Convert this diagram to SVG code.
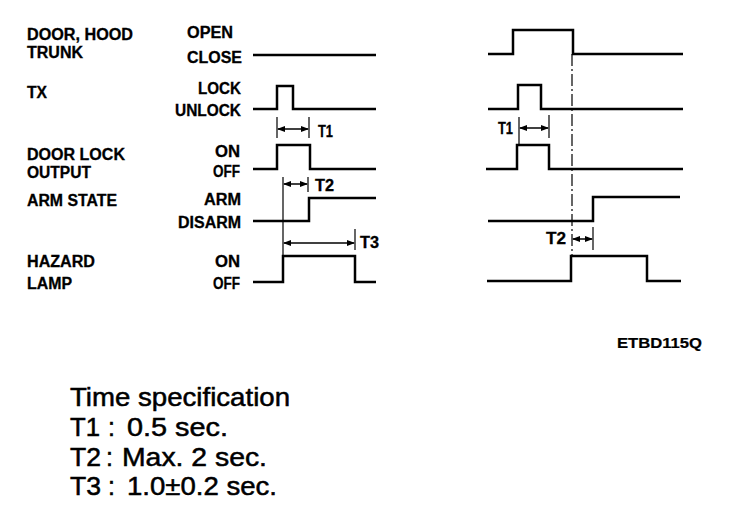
<svg xmlns="http://www.w3.org/2000/svg" width="736" height="524" viewBox="0 0 736 524">
<defs>
<marker id="ah" markerWidth="8" markerHeight="6" refX="7" refY="3" orient="auto-start-reverse" markerUnits="userSpaceOnUse">
<path d="M0,0 L8,3 L0,6 z" fill="#000"/>
</marker>
<style>
text{font-variant-ligatures:none}
.lbl{font-family:"Liberation Sans",Arial,sans-serif;font-weight:bold;font-size:16px;fill:#000;stroke:#000;stroke-width:0.3}
.st{text-anchor:end}
.tl{font-family:"Liberation Sans",Arial,sans-serif;font-weight:bold;font-size:16px;fill:#000;stroke:#000;stroke-width:0.3}
.spec{font-family:"Liberation Sans",Arial,sans-serif;font-size:25px;fill:#000;stroke:#000;stroke-width:0.5}
.wave{fill:none;stroke:#000;stroke-width:2.5;stroke-linejoin:miter}
.dim{fill:none;stroke:#000;stroke-width:1.2}
.arr{fill:none;stroke:#000;stroke-width:1.5;marker-start:url(#ah);marker-end:url(#ah)}
.dd{fill:none;stroke:#000;stroke-width:1.2;stroke-dasharray:12 3 2 3}
</style>
</defs>
<rect width="736" height="524" fill="#fff"/>

<g id="signal-door">
<text class="lbl" x="27" y="40" textLength="106" lengthAdjust="spacingAndGlyphs">DOOR, HOOD</text>
<text class="lbl" x="27" y="58" textLength="56" lengthAdjust="spacingAndGlyphs">TRUNK</text>
<text class="lbl" x="187" y="38" textLength="46" lengthAdjust="spacingAndGlyphs">OPEN</text>
<text class="lbl" x="187" y="63" textLength="55" lengthAdjust="spacingAndGlyphs">CLOSE</text>
</g>
<g id="signal-tx">
<text class="lbl" x="27" y="98" textLength="20" lengthAdjust="spacingAndGlyphs">TX</text>
<text class="lbl st" x="241" y="94" textLength="43" lengthAdjust="spacingAndGlyphs">LOCK</text>
<text class="lbl st" x="241" y="116" textLength="66" lengthAdjust="spacingAndGlyphs">UNLOCK</text>
</g>
<g id="signal-doorlock">
<text class="lbl" x="27" y="160" textLength="98" lengthAdjust="spacingAndGlyphs">DOOR LOCK</text>
<text class="lbl" x="27" y="178" textLength="64" lengthAdjust="spacingAndGlyphs">OUTPUT</text>
<text class="lbl st" x="240" y="157" textLength="25" lengthAdjust="spacingAndGlyphs">ON</text>
<text class="lbl st" x="240" y="177" textLength="27" lengthAdjust="spacingAndGlyphs">OFF</text>
</g>
<g id="signal-arm">
<text class="lbl" x="27" y="206" textLength="90" lengthAdjust="spacingAndGlyphs">ARM STATE</text>
<text class="lbl st" x="241" y="205" textLength="37" lengthAdjust="spacingAndGlyphs">ARM</text>
<text class="lbl st" x="241" y="228" textLength="63" lengthAdjust="spacingAndGlyphs">DISARM</text>
</g>
<g id="signal-hazard">
<text class="lbl" x="27" y="267" textLength="68" lengthAdjust="spacingAndGlyphs">HAZARD</text>
<text class="lbl" x="27" y="289" textLength="45" lengthAdjust="spacingAndGlyphs">LAMP</text>
<text class="lbl st" x="240" y="267" textLength="25" lengthAdjust="spacingAndGlyphs">ON</text>
<text class="lbl st" x="240" y="289" textLength="27" lengthAdjust="spacingAndGlyphs">OFF</text>
</g>

<g id="waveforms-left">
<path class="wave" d="M253,55 H376"/>
<path class="wave" d="M253,109 H277 V86 H293 V109 H376"/>
<path class="wave" d="M253,169 H277 V145 H310 V169 H376"/>
<path class="wave" d="M253,221 H309 V198 H376"/>
<path class="wave" d="M253,282 H283 V256 H355 V282 H376"/>
</g>
<g id="waveforms-right">
<path class="wave" d="M488,54 H513 V30 H573 V54 H683"/>
<path class="wave" d="M488,109 H518 V85 H541 V109 H683"/>
<path class="wave" d="M486,169 H517 V145 H549 V169 H683"/>
<path class="wave" d="M488,221 H593 V197 H680"/>
<path class="wave" d="M487,281 H571 V256 H647 V281 H681"/>
</g>

<g id="connectors">
<path class="dim" d="M277,117 V138 M309,117 V138"/>
<path class="arr" d="M278,129 H308"/>
<text class="tl" x="318" y="137" textLength="15" lengthAdjust="spacingAndGlyphs">T1</text>
<path class="dim" d="M283,177 V256 M308,177 V192"/>
<path class="arr" d="M284,184 H307"/>
<text class="tl" x="315" y="191" textLength="19" lengthAdjust="spacingAndGlyphs">T2</text>
<path class="dim" d="M355,229 V250"/>
<path class="arr" d="M284,243 H354"/>
<text class="tl" x="360" y="248" textLength="19" lengthAdjust="spacingAndGlyphs">T3</text>

<path class="dd" d="M572,54 V256"/>
<path class="dim" d="M519,117 V145 M549,115 V138"/>
<path class="arr" d="M520,128 H548"/>
<text class="tl" x="498" y="134" textLength="15" lengthAdjust="spacingAndGlyphs">T1</text>
<path class="dim" d="M593,227 V250"/>
<path class="arr" d="M573,239 H592"/>
<text class="tl" x="546" y="244" textLength="20" lengthAdjust="spacingAndGlyphs">T2</text>
</g>

<text class="tl" x="617" y="348" textLength="85" lengthAdjust="spacingAndGlyphs" style="font-size:14px;stroke-width:0.2">ETBD115Q</text>

<g id="spec">
<text class="spec" x="70" y="406" textLength="220" lengthAdjust="spacingAndGlyphs">Time specification</text>
<text class="spec" x="70" y="436" textLength="30" lengthAdjust="spacingAndGlyphs">T1</text>
<text class="spec" x="108" y="436">:</text>
<text class="spec" x="127" y="436" textLength="101" lengthAdjust="spacingAndGlyphs">0.5 sec.</text>
<text class="spec" x="70" y="466" textLength="31" lengthAdjust="spacingAndGlyphs">T2</text>
<text class="spec" x="106" y="466">:</text>
<text class="spec" x="122" y="466" textLength="145" lengthAdjust="spacingAndGlyphs">Max. 2 sec.</text>
<text class="spec" x="70" y="495" textLength="31" lengthAdjust="spacingAndGlyphs">T3</text>
<text class="spec" x="108" y="495">:</text>
<text class="spec" x="127" y="495" textLength="150" lengthAdjust="spacingAndGlyphs">1.0±0.2 sec.</text>
</g>
</svg>
